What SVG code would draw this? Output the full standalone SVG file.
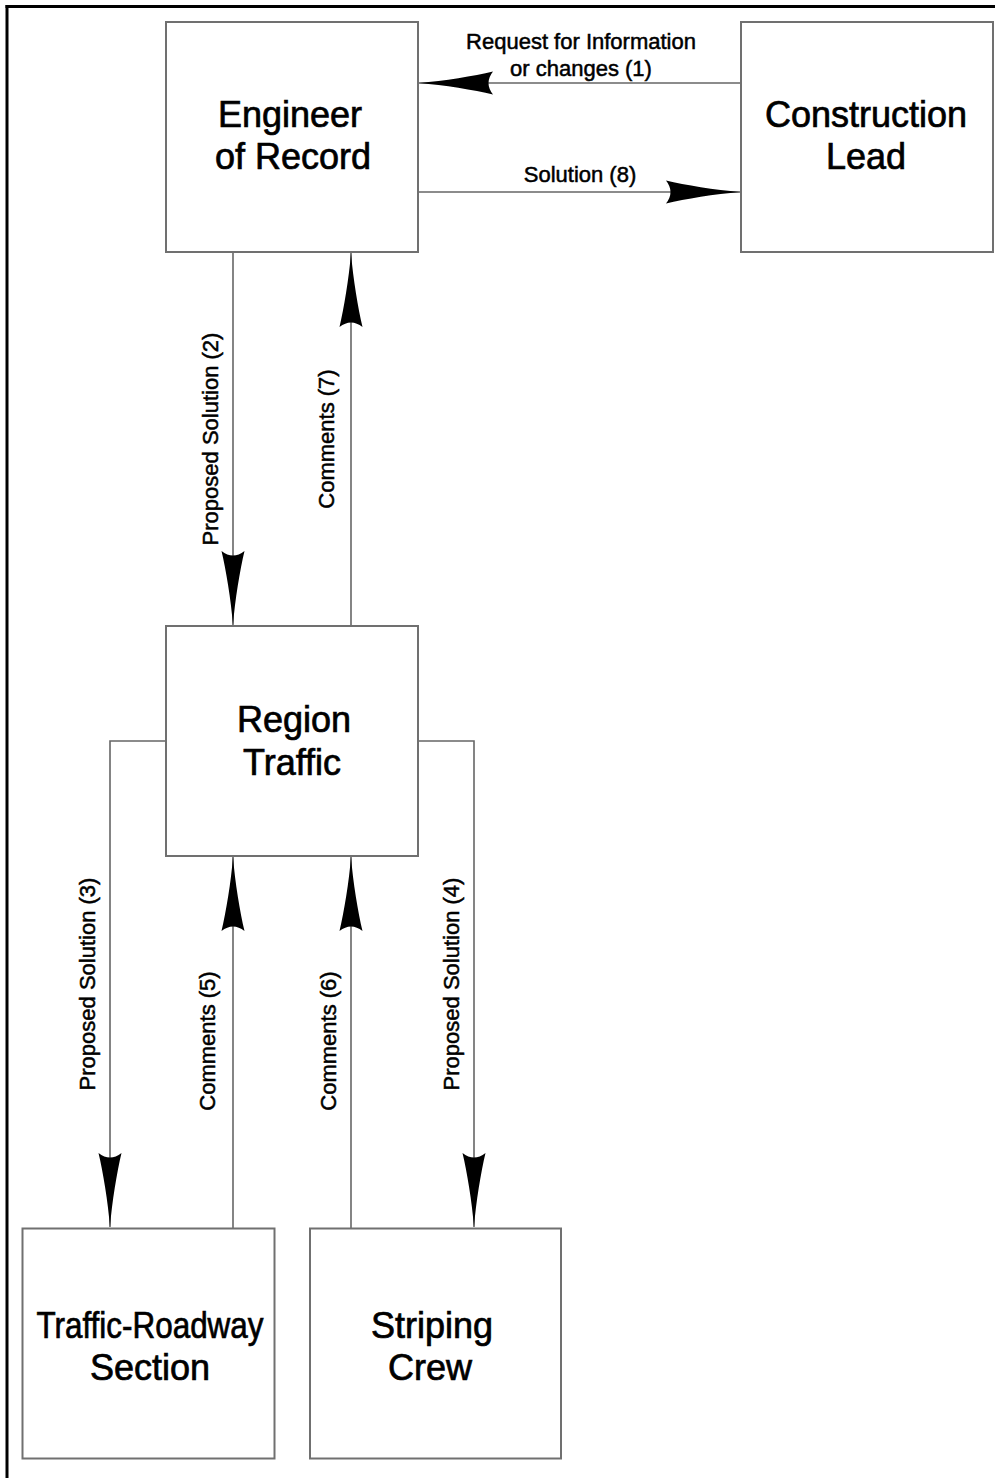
<svg xmlns="http://www.w3.org/2000/svg" width="995" height="1478" viewBox="0 0 995 1478">
<style>
.box{fill:#fff;stroke:#707070;stroke-width:2}
.title{font-family:"Liberation Sans",Arial,sans-serif;font-size:36px;fill:#000;stroke:#000;stroke-width:0.7;text-anchor:middle}
.lbl{font-family:"Liberation Sans",Arial,sans-serif;font-size:22px;fill:#000;stroke:#000;stroke-width:0.5;text-anchor:middle}
.con{fill:none;stroke:#666;stroke-width:1.6}
.frame{stroke:#000;stroke-width:3}
</style>
<defs>
<marker id="ah" markerUnits="userSpaceOnUse" markerWidth="80" markerHeight="30" viewBox="-76 -15 80 30" refX="0" refY="0" orient="auto" overflow="visible">
<path d="M0,0 C-25,-2 -55,-7 -74,-11.5 Q-65,0 -74,11.5 C-55,7 -25,2 0,0 Z" fill="#000"/>
</marker>
</defs>
<rect x="0" y="0" width="995" height="1478" fill="#fff"/>
<g id="frame">
<line class="frame" x1="5.5" y1="6.5" x2="995" y2="6.5"/>
<line class="frame" x1="7" y1="5" x2="7" y2="1478"/>
</g>
<g id="connectors">
<line class="con" x1="741" y1="83" x2="419" y2="83" marker-end="url(#ah)"/>
<line class="con" x1="418" y1="192" x2="740" y2="192" marker-end="url(#ah)"/>
<line class="con" x1="233" y1="252" x2="233" y2="625" marker-end="url(#ah)"/>
<line class="con" x1="351" y1="626" x2="351" y2="253" marker-end="url(#ah)"/>
<polyline class="con" points="166,741 110,741 110,1227" marker-end="url(#ah)"/>
<line class="con" x1="233" y1="1228" x2="233" y2="857" marker-end="url(#ah)"/>
<line class="con" x1="351" y1="1228" x2="351" y2="857" marker-end="url(#ah)"/>
<polyline class="con" points="418,741 474,741 474,1227" marker-end="url(#ah)"/>
<text class="lbl" x="581" y="49">Request for Information</text>
<text class="lbl" x="581" y="76">or changes (1)</text>
<text class="lbl" x="580" y="182">Solution (8)</text>
<text class="lbl" transform="translate(218,439) rotate(-90)">Proposed Solution (2)</text>
<text class="lbl" transform="translate(334,439) rotate(-90)">Comments (7)</text>
<text class="lbl" transform="translate(95,984) rotate(-90)">Proposed Solution (3)</text>
<text class="lbl" transform="translate(215,1041) rotate(-90)">Comments (5)</text>
<text class="lbl" transform="translate(336,1041) rotate(-90)">Comments (6)</text>
<text class="lbl" transform="translate(459,984) rotate(-90)">Proposed Solution (4)</text>
</g>
<g id="engineer">
<rect class="box" x="166" y="22" width="252" height="230"/>
<text class="title" x="290" y="127">Engineer</text>
<text class="title" x="293" y="169">of Record</text>
</g>
<g id="construction">
<rect class="box" x="741" y="22" width="252" height="230"/>
<text class="title" x="866" y="127">Construction</text>
<text class="title" x="866" y="169">Lead</text>
</g>
<g id="region">
<rect class="box" x="166" y="626" width="252" height="230"/>
<text class="title" x="294" y="732">Region</text>
<text class="title" x="292" y="775">Traffic</text>
</g>
<g id="traffic-roadway">
<rect class="box" x="22.5" y="1228.5" width="252" height="230"/>
<text class="title" x="150" y="1338" textLength="227" lengthAdjust="spacingAndGlyphs">Traffic-Roadway</text>
<text class="title" x="150" y="1380">Section</text>
</g>
<g id="striping">
<rect class="box" x="310" y="1228.5" width="251" height="230"/>
<text class="title" x="432" y="1338">Striping</text>
<text class="title" x="430" y="1380">Crew</text>
</g>
</svg>
